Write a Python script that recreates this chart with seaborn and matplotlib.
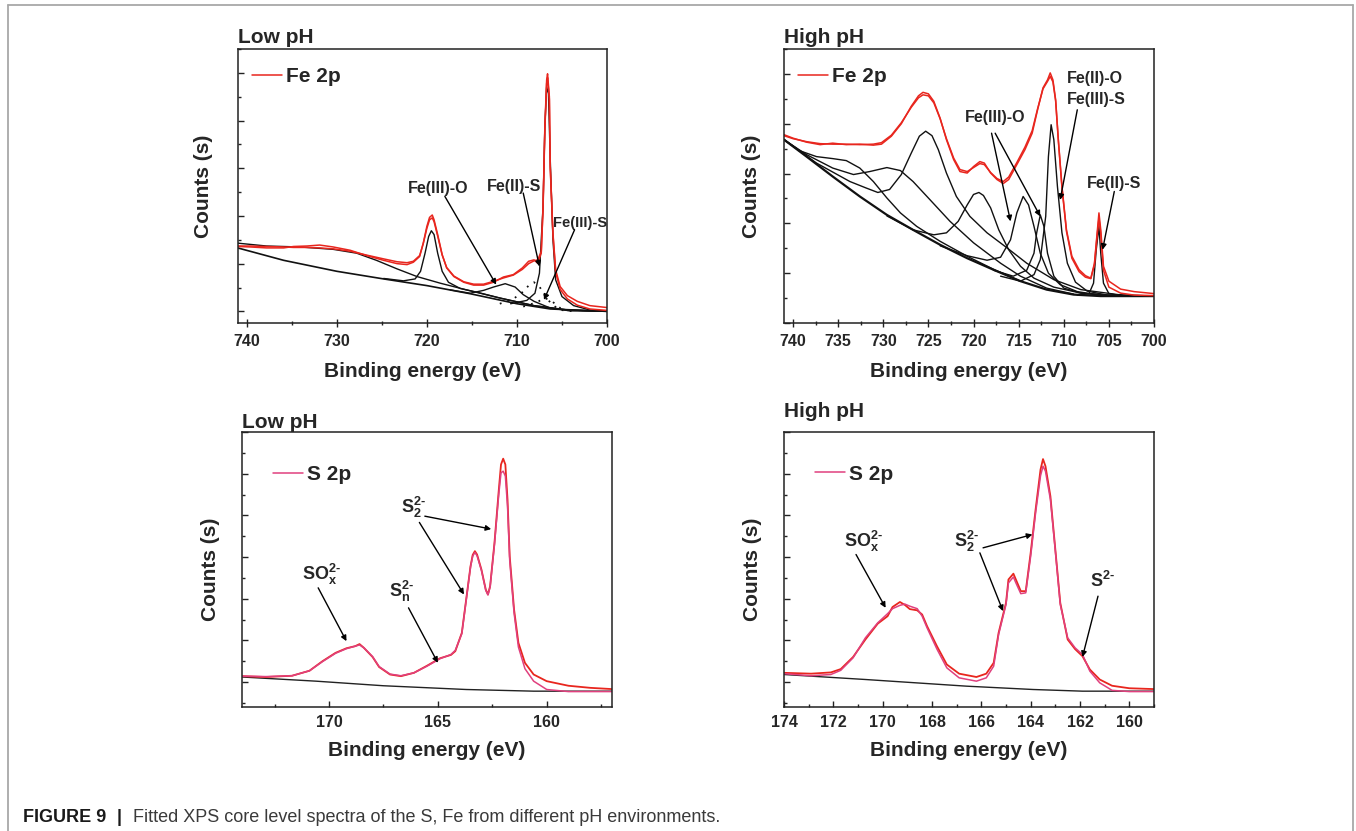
import matplotlib
matplotlib.use("Agg")
import matplotlib.pyplot as plt
from matplotlib.ticker import MultipleLocator
from matplotlib.lines import Line2D
import seaborn as sns

# ---------------- data: Fe 2p, low pH ----------------
fe_low_e = [741.0, 739.6, 737.8, 735.9, 734.8, 733.3, 731.9, 730.4, 728.5, 726.7, 724.8, 723.3, 722.2, 721.5,
            720.8, 720.4, 720.0, 719.7, 719.4, 719.2, 718.8, 718.3, 717.8, 717.0, 715.9, 714.8, 713.7, 712.6,
            711.5, 710.4, 709.4, 708.7, 708.1, 707.7, 707.3, 707.1, 706.9, 706.7, 706.6, 706.4, 706.3, 706.0,
            705.7, 705.2, 704.4, 703.3, 701.9, 700.0]
fe_low_raw = [1.36, 1.35, 1.33, 1.33, 1.36, 1.37, 1.39, 1.35, 1.28, 1.17, 1.07, 1.00, 0.98, 1.03,
              1.15, 1.43, 1.78, 1.97, 2.02, 1.92, 1.61, 1.19, 0.91, 0.73, 0.61, 0.55, 0.55, 0.61,
              0.72, 0.77, 0.91, 1.05, 1.08, 1.01, 1.22, 2.20, 3.87, 4.85, 4.98, 4.50, 3.04, 1.64,
              0.87, 0.52, 0.33, 0.21, 0.12, 0.08]
fe_low_fit = [1.37, 1.37, 1.36, 1.35, 1.34, 1.34, 1.33, 1.31, 1.26, 1.18, 1.10, 1.04, 1.02, 1.05,
              1.17, 1.42, 1.74, 1.92, 1.96, 1.88, 1.58, 1.18, 0.92, 0.74, 0.62, 0.57, 0.57, 0.63,
              0.70, 0.76, 0.88, 1.00, 1.06, 1.08, 1.25, 2.15, 3.80, 4.78, 4.90, 4.45, 3.00, 1.60,
              0.82, 0.46, 0.26, 0.13, 0.05, 0.02]
fe_low_bg_e = [741.0, 735.9, 730.0, 724.8, 720.0, 715.2, 710.0, 706.3, 700.0]
fe_low_bg = [1.33, 1.07, 0.84, 0.68, 0.54, 0.37, 0.16, 0.05, 0.00]
fe_low_sat_e = [741.0, 737.8, 734.1, 730.4, 727.8, 725.6, 723.3, 721.1, 718.5, 715.6, 711.9, 708.1, 704.4, 700.0]
fe_low_sat = [1.43, 1.37, 1.35, 1.30, 1.22, 1.07, 0.89, 0.73, 0.59, 0.45, 0.28, 0.12, 0.03, 0.00]
fe_low_p720_e = [724.8, 722.6, 721.3, 720.7, 720.2, 719.8, 719.5, 719.2, 718.8, 718.3, 717.6, 716.3, 714.4,
                 711.9, 708.1, 704.4, 700.0]
fe_low_p720 = [0.69, 0.64, 0.68, 0.84, 1.22, 1.57, 1.69, 1.61, 1.22, 0.84, 0.61, 0.48, 0.40,
               0.28, 0.12, 0.03, 0.00]
fe_low_o_e = [717.4, 715.2, 713.7, 712.6, 711.3, 710.2, 709.3, 708.1, 706.3, 704.1, 700.0]
fe_low_o = [0.45, 0.38, 0.44, 0.51, 0.58, 0.51, 0.35, 0.21, 0.07, 0.01, 0.00]
fe_low_s2_e = [711.9, 710.4, 709.4, 708.7, 708.1, 707.5, 706.9, 706.1, 705.2, 703.7]
fe_low_s2 = [0.16, 0.26, 0.40, 0.54, 0.61, 0.52, 0.33, 0.14, 0.03, 0.00]
fe_low_s3_e = [709.3, 707.8, 706.9, 706.1, 705.2, 704.1]
fe_low_s3 = [0.10, 0.19, 0.28, 0.21, 0.07, 0.01]
fe_low_main_e = [710.7, 708.9, 708.0, 707.5, 707.1, 706.9, 706.7, 706.5, 706.3, 706.0, 705.7, 705.0,
                 703.7, 701.9, 700.0]
fe_low_main = [0.16, 0.23, 0.38, 0.80, 2.20, 3.87, 4.70, 4.57, 3.18, 1.50, 0.66, 0.31,
               0.12, 0.03, 0.00]

# ---------------- data: Fe 2p, high pH ----------------
fe_high_e = [741.0, 740.0, 738.5, 737.0, 735.6, 734.1, 732.6, 731.1, 730.2, 729.1, 728.0, 726.9, 726.1,
             725.6, 725.0, 724.4, 723.7, 723.0, 722.2, 721.5, 720.7, 720.0, 719.3, 718.8, 718.1, 717.4,
             716.7, 716.1, 715.2, 714.3, 713.5, 712.9, 712.3, 711.8, 711.5, 711.2, 710.9, 710.6, 710.2,
             709.7, 709.1, 708.3, 707.6, 707.0, 706.6, 706.3, 706.1, 705.9, 705.6, 705.0, 703.7, 702.2,
             700.0]
fe_high_raw = [3.78, 3.71, 3.63, 3.58, 3.61, 3.58, 3.59, 3.57, 3.59, 3.75, 4.00, 4.35, 4.56,
               4.63, 4.60, 4.45, 4.11, 3.68, 3.28, 3.04, 3.01, 3.14, 3.24, 3.21, 3.01, 2.88,
               2.80, 2.88, 3.18, 3.48, 3.81, 4.28, 4.72, 4.88, 5.02, 4.88, 4.48, 3.68, 2.74,
               1.87, 1.34, 1.07, 0.95, 0.90, 1.20, 1.81, 2.21, 1.87, 1.14, 0.84, 0.68, 0.63,
               0.59]
fe_high_fit = [3.76, 3.70, 3.64, 3.60, 3.59, 3.59, 3.58, 3.59, 3.62, 3.77, 4.02, 4.33, 4.52,
               4.58, 4.56, 4.42, 4.10, 3.70, 3.31, 3.08, 3.04, 3.12, 3.20, 3.18, 3.02, 2.90,
               2.84, 2.93, 3.22, 3.53, 3.86, 4.30, 4.70, 4.85, 4.95, 4.84, 4.46, 3.66, 2.72,
               1.84, 1.30, 1.03, 0.92, 0.89, 1.17, 1.76, 2.10, 1.80, 1.06, 0.72, 0.60, 0.56,
               0.55]
fe_high_bg_e = [741.0, 738.5, 735.6, 732.6, 729.6, 726.7, 723.7, 720.7, 717.8, 714.8, 711.9, 708.9, 705.9, 700.0]
fe_high_bg = [3.68, 3.34, 2.94, 2.54, 2.17, 1.87, 1.57, 1.30, 1.07, 0.84, 0.67, 0.57, 0.54, 0.54]
fe_high_sat1_e = [741.0, 739.3, 737.4, 735.6, 734.1, 732.6, 731.1, 729.6, 728.1, 726.3, 723.7, 720.7, 717.8, 714.8]
fe_high_sat1 = [3.68, 3.46, 3.34, 3.30, 3.26, 3.11, 2.84, 2.51, 2.21, 1.94, 1.64, 1.34, 1.08, 0.84]
fe_high_sat2_e = [741.0, 738.5, 735.6, 733.3, 731.5, 729.6, 728.1, 726.7, 724.8, 722.6, 720.0, 717.0, 714.8,
                  711.9, 708.9]
fe_high_sat2 = [3.68, 3.38, 3.11, 2.98, 3.04, 3.12, 3.06, 2.84, 2.47, 2.04, 1.61, 1.20, 0.94,
                0.70, 0.58]
fe_high_p725_e = [741.0, 737.4, 733.7, 731.9, 730.6, 729.3, 728.0, 726.9, 726.0, 725.3, 724.6, 723.9, 723.0,
                  721.9, 720.4, 718.5, 716.3, 714.1, 711.1, 708.1, 704.0, 700.0]
fe_high_p725 = [3.68, 3.21, 2.84, 2.71, 2.62, 2.68, 2.98, 3.41, 3.75, 3.85, 3.76, 3.48, 3.01,
                2.54, 2.14, 1.81, 1.51, 1.20, 0.87, 0.67, 0.57, 0.54]
fe_high_p719_e = [729.6, 726.7, 724.4, 723.0, 721.7, 720.7, 720.0, 719.4, 718.9, 718.1, 717.2, 716.1, 714.8,
                  713.3, 711.1, 708.1, 704.0]
fe_high_p719 = [2.15, 1.87, 1.77, 1.81, 2.04, 2.37, 2.58, 2.62, 2.56, 2.31, 1.87, 1.47, 1.14,
                0.90, 0.72, 0.60, 0.55]
fe_high_p714_e = [723.7, 720.7, 718.5, 717.0, 715.9, 715.2, 714.5, 713.9, 713.3, 712.6, 711.7, 710.4, 708.5,
                  706.0, 702.3]
fe_high_p714 = [1.55, 1.35, 1.26, 1.32, 1.67, 2.21, 2.54, 2.37, 1.94, 1.40, 1.00, 0.77, 0.63,
                0.56, 0.54]
fe_high_p712_e = [717.8, 715.6, 714.1, 713.3, 713.0, 712.6, 712.2, 711.8, 711.1, 710.0, 708.1, 705.2]
fe_high_p712 = [1.06, 0.94, 1.06, 1.40, 1.81, 2.17, 1.94, 1.40, 0.94, 0.70, 0.60, 0.55]
fe_high_p711_e = [717.0, 714.8, 713.3, 712.6, 712.0, 711.7, 711.4, 711.1, 710.7, 710.2, 709.6, 708.7, 707.4,
                  705.2, 702.3]
fe_high_p711 = [0.94, 0.84, 0.97, 1.27, 2.14, 3.34, 3.98, 3.68, 2.74, 1.81, 1.20, 0.82, 0.64,
                0.56, 0.54]
fe_high_p706_e = [708.5, 707.2, 706.7, 706.4, 706.1, 705.9, 705.6, 705.0, 703.7]
fe_high_p706 = [0.56, 0.59, 0.80, 1.47, 1.94, 1.40, 0.80, 0.59, 0.55]

# ---------------- data: S 2p, low pH ----------------
s_low_e = [174.0, 172.9, 171.7, 170.9, 170.3, 169.7, 169.2, 168.8, 168.6, 168.4, 168.0, 167.7, 167.2, 166.7,
           166.1, 165.5, 164.9, 164.4, 164.2, 163.9, 163.7, 163.5, 163.4, 163.3, 163.2, 163.0, 162.8, 162.7,
           162.6, 162.4, 162.2, 162.1, 162.0, 161.9, 161.8, 161.7, 161.5, 161.3, 161.0, 160.6, 160.0, 159.0,
           158.0, 157.0]
s_low_raw = [0.14, 0.12, 0.15, 0.27, 0.50, 0.70, 0.81, 0.86, 0.91, 0.82, 0.60, 0.36, 0.18, 0.14,
             0.22, 0.39, 0.57, 0.65, 0.74, 1.18, 1.98, 2.78, 3.05, 3.14, 3.06, 2.70, 2.22, 2.10,
             2.30, 3.34, 4.62, 5.22, 5.36, 5.22, 4.38, 3.02, 1.74, 0.94, 0.46, 0.18, 0.02, -0.09,
             -0.14, -0.17]
s_low_fit = [0.14, 0.13, 0.15, 0.27, 0.49, 0.69, 0.80, 0.86, 0.89, 0.82, 0.61, 0.37, 0.19, 0.15,
             0.22, 0.38, 0.56, 0.66, 0.76, 1.16, 1.96, 2.76, 3.02, 3.11, 3.03, 2.68, 2.20, 2.09,
             2.28, 3.30, 4.52, 5.02, 5.06, 4.94, 4.22, 2.92, 1.66, 0.84, 0.32, 0.02, -0.18, -0.23,
             -0.23, -0.23]
s_low_bg_e = [174.0, 170.6, 167.5, 163.7, 160.6, 157.0]
s_low_bg = [0.12, 0.02, -0.09, -0.18, -0.22, -0.22]

# ---------------- data: S 2p, high pH ----------------
s_high_e = [174.0, 172.9, 172.1, 171.7, 171.2, 170.7, 170.2, 169.8, 169.6, 169.3, 169.1, 168.9, 168.6, 168.4,
            168.2, 167.8, 167.4, 166.9, 166.2, 165.8, 165.5, 165.3, 165.0, 164.9, 164.7, 164.6, 164.4, 164.2,
            164.0, 163.8, 163.6, 163.5, 163.4, 163.2, 163.0, 162.8, 162.5, 162.2, 161.9, 161.6, 161.2, 160.7,
            160.0, 159.0]
s_high_raw = [0.22, 0.20, 0.23, 0.31, 0.60, 1.02, 1.40, 1.58, 1.80, 1.92, 1.85, 1.75, 1.72, 1.62,
              1.34, 0.86, 0.42, 0.20, 0.12, 0.20, 0.46, 1.18, 1.90, 2.46, 2.60, 2.46, 2.18, 2.18,
              3.10, 4.14, 5.10, 5.35, 5.18, 4.46, 3.18, 1.90, 1.02, 0.79, 0.62, 0.30, 0.06, -0.09,
              -0.15, -0.17]
s_high_fit = [0.20, 0.15, 0.18, 0.28, 0.58, 1.06, 1.42, 1.64, 1.76, 1.84, 1.87, 1.82, 1.76, 1.58,
              1.30, 0.79, 0.34, 0.10, 0.02, 0.10, 0.38, 1.14, 1.86, 2.38, 2.52, 2.38, 2.12, 2.14,
              3.02, 4.06, 4.95, 5.18, 5.06, 4.38, 3.14, 1.86, 1.06, 0.82, 0.66, 0.26, -0.02, -0.20,
              -0.23, -0.23]
s_high_bg_e = [174.0, 170.7, 166.6, 163.9, 161.9, 159.0]
s_high_bg = [0.18, 0.06, -0.10, -0.18, -0.22, -0.22]

panel_titles = ["Low pH", "High pH", "Low pH", "High pH"]
legend_labels = ["Fe 2p", "Fe 2p", "S 2p", "S 2p"]
xlabel_text = "Binding energy (eV)"
ylabel_text = "Counts (s)"
caption_bold = "FIGURE 9"
caption_text = "Fitted XPS core level spectra of the S, Fe from different pH environments."

# ---------------- style ----------------
sns.set_style("ticks")
plt.rcParams["font.family"] = ["Liberation Sans", "DejaVu Sans"]
plt.rcParams["mathtext.fontset"] = "custom"
plt.rcParams["mathtext.rm"] = "Liberation Sans"
plt.rcParams["mathtext.bf"] = "Liberation Sans:bold"
plt.rcParams["mathtext.it"] = "Liberation Sans:italic"

RED = "#e8261e"
PINK = "#e0407e"
BLACK = "#111111"

W, H = 1356, 831
fig = plt.figure(figsize=(W / 100, H / 100), dpi=100)


def px_axes(l, t, r, b):
    return fig.add_axes([l / W, 1 - b / H, (r - l) / W, (b - t) / H])


ax_tl = px_axes(237.7, 49, 607, 323)
ax_tr = px_axes(784, 49, 1154, 323)
ax_bl = px_axes(242, 432, 612, 707)
ax_br = px_axes(784, 432, 1154, 707)


def line(ax, x, y, color, lw=1.1, ls="-", label=None):
    sns.lineplot(x=x, y=y, ax=ax, color=color, lw=lw, ls=ls, estimator=None, sort=False,
                 label=label, legend=False)


# Fe low
line(ax_tl, fe_low_bg_e, fe_low_bg, BLACK, 1.2)
line(ax_tl, fe_low_sat_e, fe_low_sat, BLACK, 1.0)
line(ax_tl, fe_low_p720_e, fe_low_p720, BLACK, 1.0)
line(ax_tl, fe_low_o_e, fe_low_o, BLACK, 1.0)
line(ax_tl, fe_low_s2_e, fe_low_s2, BLACK, 1.3, (0, (1, 3.5)))
line(ax_tl, fe_low_s3_e, fe_low_s3, BLACK, 1.3, (0, (1, 3.5)))
line(ax_tl, fe_low_main_e, fe_low_main, BLACK, 1.0)
line(ax_tl, fe_low_e, fe_low_fit, RED, 1.1)
line(ax_tl, fe_low_e, fe_low_raw, RED, 1.1, label=legend_labels[0])

# Fe high
line(ax_tr, fe_high_bg_e, fe_high_bg, BLACK, 1.6)
for xs, ys in [(fe_high_sat1_e, fe_high_sat1), (fe_high_sat2_e, fe_high_sat2),
               (fe_high_p725_e, fe_high_p725), (fe_high_p719_e, fe_high_p719),
               (fe_high_p714_e, fe_high_p714), (fe_high_p712_e, fe_high_p712),
               (fe_high_p711_e, fe_high_p711), (fe_high_p706_e, fe_high_p706)]:
    line(ax_tr, xs, ys, BLACK, 1.0)
line(ax_tr, fe_high_e, fe_high_fit, RED, 1.1)
line(ax_tr, fe_high_e, fe_high_raw, RED, 1.1, label=legend_labels[1])

# S low
line(ax_bl, s_low_bg_e, s_low_bg, "#222222", 1.0)
line(ax_bl, s_low_e, s_low_raw, RED, 1.3)
line(ax_bl, s_low_e, s_low_fit, PINK, 1.1, label=legend_labels[2])

# S high
line(ax_br, s_high_bg_e, s_high_bg, "#222222", 1.0)
line(ax_br, s_high_e, s_high_raw, RED, 1.3)
line(ax_br, s_high_e, s_high_fit, PINK, 1.1, label=legend_labels[3])


def setup(ax, xlim, xmaj, xmin_, ylim, ymaj, ymin_, top_row, title, tpad, ylab_x, xlab_y, leg_xy):
    ax.set_xlim(*xlim)
    ax.set_ylim(*ylim)
    ax.xaxis.set_major_locator(MultipleLocator(xmaj))
    ax.xaxis.set_minor_locator(MultipleLocator(xmin_))
    ax.yaxis.set_major_locator(MultipleLocator(ymaj))
    ax.yaxis.set_minor_locator(MultipleLocator(ymin_))
    for s in ax.spines.values():
        s.set_visible(True)
        s.set_linewidth(1.1)
        s.set_color("#222222")
    ax.tick_params(axis="y", which="both", direction="in", left=True, right=False,
                   labelleft=False, width=1.0, color="#222222")
    ax.tick_params(axis="y", which="major", length=4)
    ax.tick_params(axis="y", which="minor", length=2.2)
    if top_row:
        ax.tick_params(axis="x", which="both", direction="inout", top=False, width=1.0, color="#222222")
        ax.tick_params(axis="x", which="major", length=6, pad=5)
        ax.tick_params(axis="x", which="minor", length=3.5)
    else:
        ax.tick_params(axis="x", which="both", direction="in", top=False, width=1.0, color="#222222")
        ax.tick_params(axis="x", which="major", length=4.5, pad=5.5)
        ax.tick_params(axis="x", which="minor", length=2.5)
    for t in ax.get_xticklabels():
        t.set_fontweight("bold")
        t.set_fontsize(11.5)
    ax.set_xlabel(xlabel_text, fontsize=15, fontweight="bold")
    ax.set_ylabel(ylabel_text, fontsize=15, fontweight="bold")
    ax.yaxis.set_label_coords(ylab_x, 0.5)
    ax.xaxis.set_label_coords(0.5, xlab_y)
    ax.set_title(title, loc="left", fontsize=15, fontweight="bold", pad=tpad)
    h, l = ax.get_legend_handles_labels()
    ax.legend(h[-1:], l[-1:], loc="center left", bbox_to_anchor=leg_xy, frameon=False,
              handlelength=1.45, handletextpad=0.2, borderpad=0, borderaxespad=0,
              prop=dict(weight="bold", size=15))


setup(ax_tl, (741, 700), 10, 5, (-0.244, 5.50), 1, 0.5, True, panel_titles[0], 4.0, -0.066, -0.142, (0.038, 0.898))
setup(ax_tr, (741, 700), 5, 2.5, (0.0, 5.5), 1, 0.5, True, panel_titles[1], 4.5, -0.062, -0.142, (0.038, 0.898))
setup(ax_bl, (174, 157), 5, 2.5, (-0.6, 6.0), 1, 0.5, False, panel_titles[2], 3.0, -0.0595, -0.124, (0.084, 0.844))
setup(ax_br, (174, 159), 2, 1, (-0.6, 6.0), 1, 0.5, False, panel_titles[3], 10.7, -0.060, -0.124, (0.084, 0.847))

AP = dict(arrowstyle="-|>", color="black", lw=1.0, mutation_scale=8, shrinkA=0, shrinkB=0)


def note(ax, text, xy_text, size=11.5, ha="center"):
    ax.text(xy_text[0], xy_text[1], text, ha=ha, va="center", fontsize=size, fontweight="bold")


def arrow(ax, tail, head):
    ax.annotate("", xy=head, xytext=tail, arrowprops=AP)


# TL annotations
note(ax_tl, "Fe(III)-O", (718.7, 2.58))
arrow(ax_tl, (718.0, 2.41), (712.3, 0.56))
note(ax_tl, "Fe(II)-S", (710.3, 2.62))
arrow(ax_tl, (709.3, 2.48), (707.5, 0.94))
note(ax_tl, "Fe(III)-S", (703.0, 1.86), size=10.5)
arrow(ax_tl, (703.6, 1.71), (707.0, 0.24))

# TR annotations
note(ax_tr, "Fe(II)-O", (709.7, 4.90), ha="left")
note(ax_tr, "Fe(III)-S", (709.7, 4.49), ha="left")
arrow(ax_tr, (708.5, 4.28), (710.4, 2.47))
note(ax_tr, "Fe(III)-O", (717.6, 4.13))
arrow(ax_tr, (718.0, 3.81), (715.9, 2.04))
arrow(ax_tr, (717.6, 3.81), (712.6, 2.14))
note(ax_tr, "Fe(II)-S", (704.4, 2.81))
arrow(ax_tr, (704.4, 2.64), (705.7, 1.47))

HY = "\u2010"
SOX = r"$\mathbf{SO_x^{2" + HY + r"}}$"
S2 = r"$\mathbf{S_2^{2" + HY + r"}}$"
SN = r"$\mathbf{S_n^{2" + HY + r"}}$"
S1 = r"$\mathbf{S^{2" + HY + r"}}$"

# BL annotations
note(ax_bl, SOX, (170.35, 2.58), size=13)
arrow(ax_bl, (170.5, 2.26), (169.2, 0.98))
note(ax_bl, SN, (166.66, 2.18), size=13)
arrow(ax_bl, (166.35, 1.78), (165.0, 0.46))
note(ax_bl, S2, (166.1, 4.18), size=13)
arrow(ax_bl, (165.6, 3.98), (162.55, 3.67))
arrow(ax_bl, (165.85, 3.83), (163.8, 2.10))

# BR annotations
note(ax_br, SOX, (170.79, 3.38), size=13)
arrow(ax_br, (171.08, 3.06), (169.88, 1.78))
note(ax_br, S2, (166.6, 3.38), size=13)
arrow(ax_br, (165.93, 3.22), (163.93, 3.54))
arrow(ax_br, (166.06, 3.10), (165.12, 1.70))
note(ax_br, S1, (161.07, 2.42), size=13)
arrow(ax_br, (161.27, 2.06), (161.9, 0.60))

# outer frame (open at bottom)
fc = "#a8a8a8"
fig.add_artist(Line2D([8 / W, 1353 / W], [1 - 4.5 / H, 1 - 4.5 / H], color=fc, lw=1.3, transform=fig.transFigure))
fig.add_artist(Line2D([8 / W, 8 / W], [1 - 4.5 / H, 0], color=fc, lw=1.3, transform=fig.transFigure))
fig.add_artist(Line2D([1353 / W, 1353 / W], [1 - 4.5 / H, 0], color=fc, lw=1.3, transform=fig.transFigure))

# caption
fig.text(23 / W, 1 - 822 / H, caption_bold, fontsize=13, fontweight="bold", color="#1a1a1a", va="baseline")
fig.text(117 / W, 1 - 822 / H, "|", fontsize=13, fontweight="bold", color="#1a1a1a", va="baseline")
fig.text(133 / W, 1 - 822 / H, caption_text, fontsize=13, color="#3a3a3a", va="baseline")

fig.savefig("out.png", dpi=100)
